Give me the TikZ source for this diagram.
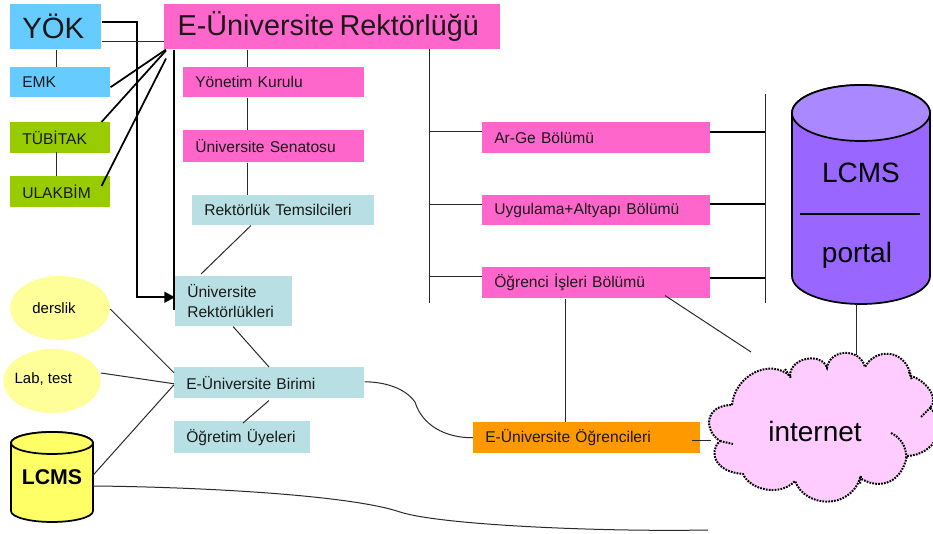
\documentclass[tikz,border=0pt]{standalone}
\usepackage{fontspec}
\setmainfont{Liberation Sans}
\usetikzlibrary{shapes.geometric,calc,arrows.meta}
\definecolor{cblue}{HTML}{66CCFF}
\definecolor{cpink}{HTML}{FF66CC}
\definecolor{cgreen}{HTML}{99CC00}
\definecolor{cteal}{HTML}{B8E0E4}
\definecolor{corange}{HTML}{FF9900}
\definecolor{cyellow}{HTML}{FFFF99}
\definecolor{cylyel}{HTML}{FFFF66}
\definecolor{cpurple}{HTML}{9966FF}
\definecolor{cpurplet}{HTML}{AA88FF}
\definecolor{ccloud}{HTML}{FFCCFF}
\definecolor{cline}{HTML}{2A2A2A}
\newcommand{\pbox}[7]{\node[boxnode,fill=#6,minimum width={(#4-#2)*0.75pt},minimum height={(#5-#3)*0.75pt},text width={(#4-#2-24)*0.75pt}] (#1) at (#2,#3) {#7};}
\newcommand{\ovaltext}[3]{\makebox[0pt]{\kern#1\raisebox{#2}{#3}}}
\tikzset{
  x=0.75pt,y=-0.75pt,
  boxnode/.style={anchor=north west,inner xsep=9pt,inner ysep=0pt,align=left,font=\fontsize{11.7}{15}\selectfont,text=black!90},
  oval/.style={ellipse,fill=cyellow,inner sep=0pt,font=\fontsize{11.2}{14}\selectfont},
  link/.style={draw=cline,line width=0.75pt},
  heavy/.style={draw=black,line width=1.3pt},
  heavier/.style={draw=black,line width=1.7pt},
  cyl/.style={draw=black,line width=1.3pt},
  cylabel/.style={inner sep=0pt,font=\fontsize{21}{24}\selectfont},
  cloudline/.style={draw=black,line width=1.5pt,dash pattern=on 1.3pt off 0.9pt},
}
\begin{document}
\begin{tikzpicture}
\useasboundingbox (0,0) rectangle (933,534);
\clip (0,0) rectangle (933,534);
% boxes
\pbox{yok}{10}{4}{101}{49}{cblue}{\fontsize{22}{24}\selectfont YÖK}
\pbox{rek}{164}{4}{500}{49}{cpink}{\hspace{1pt}\fontsize{21.6}{24}\selectfont\mbox{E-Üniversite Rektörlüğü}}
\pbox{emk}{10}{67}{110}{97}{cblue}{EMK}
\pbox{tub}{10}{122}{110}{153}{cgreen}{TÜBİTAK}
\pbox{ula}{10}{176}{110}{207}{cgreen}{ULAKBİM}
\pbox{yon}{183}{67}{364}{97}{cpink}{Yönetim Kurulu}
\pbox{sen}{183}{130}{364}{162}{cpink}{Üniversite Senatosu}
\pbox{tem}{192}{195}{374}{225}{cteal}{Rektörlük Temsilcileri}
\pbox{unr}{175}{276}{292}{326}{cteal}{Üniversite\\Rektörlükleri}
\pbox{bir}{174}{367}{364}{398}{cteal}{E-Üniversite Birimi}
\pbox{ogr}{174}{421}{310}{453}{cteal}{Öğretim Üyeleri}
\pbox{arg}{482}{122}{710}{153}{cpink}{Ar-Ge Bölümü}
\pbox{uyg}{482}{195}{710}{225}{cpink}{Uygulama+Altyapı Bölümü}
\pbox{isl}{482}{267}{710}{298}{cpink}{Öğrenci İşleri Bölümü}
\pbox{eog}{473}{422}{700}{453}{corange}{E-Üniversite Öğrencileri}
% ovals
\node[oval,minimum width=75pt,minimum height=48pt] (der) at (60,308) {\ovaltext{-9pt}{-1.5pt}{derslik}};
\node[oval,minimum width=73pt,minimum height=48pt] (lab) at (52,381) {\ovaltext{-13pt}{5pt}{Lab, test}};
% small cylinder
\path[cyl,fill=cylyel] (11,443) -- (11,511) arc[start angle=180,end angle=0,x radius=41,y radius=11] -- (93,443) arc[start angle=0,end angle=-180,x radius=41,y radius=11] -- cycle;
\path[cyl,fill=cylyel] (52,443) ellipse[x radius=41,y radius=11];
\node[inner sep=0pt,minimum width=61.5pt,minimum height=45pt,font=\bfseries\fontsize{16}{18}\selectfont] (lc) at (52,477) {LCMS};
% big cylinder
\path[cyl,fill=cpurple] (792,113) -- (792,276) arc[start angle=180,end angle=0,x radius=69,y radius=28] -- (930,113) arc[start angle=0,end angle=-180,x radius=69,y radius=28] -- cycle;
\path[cyl,fill=cpurplet] (861,113) ellipse[x radius=69,y radius=28];
\node[cylabel] (lp) at (861,173) {LCMS};
\node[cylabel] (po) at (857,255) {portal};
\coordinate (barl) at (800,214);
\coordinate (barr) at (920,214);
\draw[black,line width=1.3pt] (barl) -- (barr);
\coordinate (cyb) at (856,304);
% cloud
\path[fill=ccloud,cloudline]
 (732,405) .. controls (735,375) and (770,358) .. (790,376)
 .. controls (790,357) and (822,352) .. (827,368)
 .. controls (830,348) and (860,348) .. (865,367)
 .. controls (875,348) and (905,348) .. (911,376)
 .. controls (925,380) and (940,398) .. (930,408)
 .. controls (950,425) and (935,455) .. (907,456)
 .. controls (900,488) and (875,488) .. (860,478)
 .. controls (850,510) and (805,508) .. (795,481)
 .. controls (780,497) and (750,490) .. (743,474)
 .. controls (715,472) and (708,452) .. (720,441)
 .. controls (703,430) and (705,405) .. (732,405) -- cycle;
\draw[cloudline] (891,433) .. controls (900,437) and (907,447) .. (906,458);
\draw[cloudline] (921,417) -- (931,407);
\draw[cloudline] (720,441) -- (733,444);
\draw[cloudline] (785,369) -- (791,378);
\draw[cloudline] (909,372) -- (912,380);
\draw[cloudline] (861,476) -- (860,484);
\node[inner sep=0pt,font=\fontsize{21}{24}\selectfont] (net) at (815,431) {internet};
% connectors
\draw[heavier,-{Triangle[length=8pt,width=8pt]}] ($(yok.north east)+(0,18)$) -| ($(unr.west)+(-38,-4)$) -- ($(unr.west)+(0,-4)$);
\draw[link] ($(yok.south east)+(0,-8)$) -- ($(rek.south west)+(0,-8)$);
\draw[heavy] ($(rek.south west)+(10,0)$) -- ($(unr.north west)+(-1,34)$);
\draw[link] ($(yok.south west)+(46,0)$) -- ($(emk.north west)+(46,0)$);
\draw[link] ($(tub.south west)+(46,-2)$) -- ($(ula.north west)+(46,0)$);
\draw[heavy] ($(emk.east)+(0,5)$) -- ($(rek.south west)+(2,0)$);
\draw[heavy] ($(tub.north east)+(-9,0)$) -- ($(rek.south west)+(2,1)$);
\draw[heavy] ($(ula.north east)+(-9,10)$) -- ($(rek.south west)+(2,9)$);
\draw[link] ($(rek.south west)+(83,0)$) -- ($(yon.north west)+(64,0)$);
\draw[link] ($(yon.south west)+(64,0)$) -- ($(sen.north west)+(64,0)$);
\draw[link] ($(sen.south west)+(64,0)$) -- ($(tem.north west)+(55,0)$);
\draw[link] ($(tem.south west)+(59,0)$) -- ($(unr.north west)+(26,-2)$);
\draw[link] ($(unr.south west)+(58,0)$) -- ($(bir.north west)+(95,0)$);
\draw[link] ($(bir.south west)+(95,2)$) -- ($(ogr.north west)+(69,2)$);
\draw[link] ($(der.east)+(0,1)$) -- ($(bir.west)+(0,-10)$);
\draw[link] ($(lab.east)+(0,-8)$) -- ($(bir.west)+(0,1)$);
\draw[link] ($(lc.east)+(0,-2)$) -- ($(bir.west)+(0,2)$);
\draw[link] ($(lc.east)+(0,9)$) .. controls (200,487) and (350,495) .. (400,512) .. controls (440,525) and (600,532) .. (708,530);
\coordinate (trunktop) at (429,49);
\coordinate (trunkbot) at (429,303);
\draw[link] (trunktop) -- (trunkbot);
\draw[link] ($(arg.west -| trunktop)+(0,-6)$) -- ($(arg.west)+(0,-6)$);
\draw[link] ($(uyg.west -| trunktop)+(0,-6)$) -- ($(uyg.west)+(0,-6)$);
\draw[link] ($(isl.west -| trunktop)+(0,-6)$) -- ($(isl.west)+(0,-6)$);
\coordinate (railtop) at (765,94);
\coordinate (railbot) at (765,303);
\draw[link] (railtop) -- (railbot);
\draw[heavy] ($(arg.east)+(-1,-6)$) -- ($(arg.east -| railtop)+(0,-6)$);
\draw[heavy] ($(uyg.east)+(-1,-6)$) -- ($(uyg.east -| railtop)+(0,-6)$);
\draw[heavy] ($(isl.east)+(-1,-5)$) -- ($(isl.east -| railtop)+(0,-5)$);
\draw[link] ($(isl.south west)+(83,0)$) -- ($(eog.north west)+(92,0)$);
\draw[link] ($(isl.south west)+(183,-3)$) -- (751,352);
\draw[link] (cyb) -- (856,355);
\draw[link] ($(eog.east)+(-9,3)$) -- ($(eog.east)+(10,3)$);
\draw[link] ($(bir.east)+(0,-1)$) .. controls (385,382) and (405,388) .. (415,402) .. controls (422,425) and (445,438) .. (eog.west);
\end{tikzpicture}
\end{document}
